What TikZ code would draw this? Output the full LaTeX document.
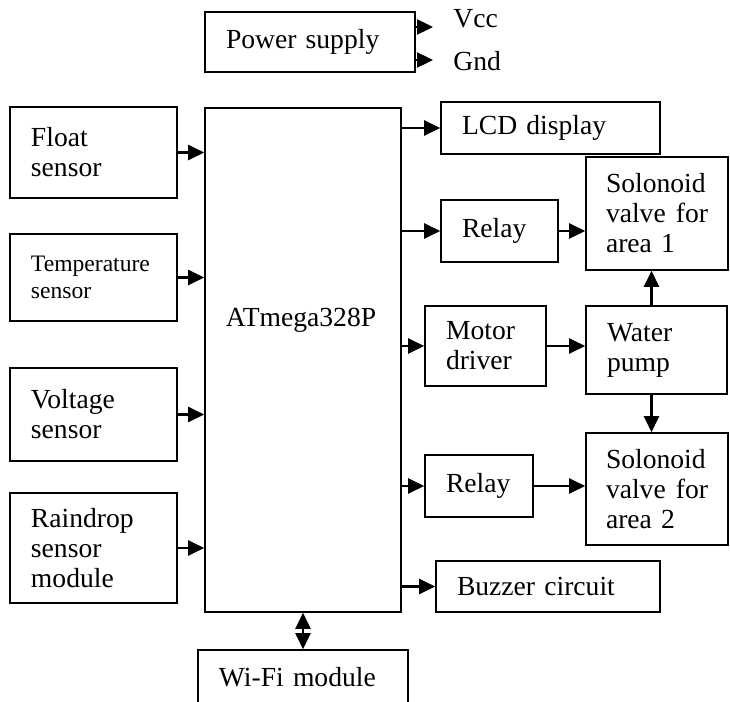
\documentclass[tikz,border=0pt]{standalone}
\usepackage{fontspec}
\setmainfont{Liberation Serif}
\usepackage{tikz}
\usetikzlibrary{arrows.meta}

\newcommand\bodyfont{\fontsize{13.8}{15}\selectfont}
\newcommand\smallbodyfont{\fontsize{11.8}{13.5}\selectfont}

\tikzset{
  blk/.style={draw, line width=0.8pt, align=left, inner xsep=10.5pt, inner ysep=0pt},
  arr/.style={line width=1.2pt, -{Triangle[length=8pt,width=7.5pt]}},
  darr/.style={line width=1.2pt, {Triangle[length=8pt,width=7.5pt]}-{Triangle[length=8pt,width=7.5pt]}},
}

\begin{document}
\begin{tikzpicture}[x=0.5pt, y=-0.5pt, font=\bodyfont]
        \useasboundingbox (0,0) rectangle (730,702);
        % power supply
        \node[blk, text width=84pt, minimum height=30pt] (power) at (310,42) {Power supply};
        \coordinate (vccend) at (433,27);
        \coordinate (gndend) at (433,60);
        \node[anchor=base west, inner sep=0pt] (vcc) at (453,27) {Vcc};
        \node[anchor=base west, inner sep=0pt] (gnd) at (453,70) {Gnd};
        \draw[arr] (power.east |- vccend) -- (vccend);
        \draw[arr] (power.east |- gndend) -- (gndend);
        % sensors
        \node[blk, text width=62.5pt, minimum height=45.5pt] (float) at (93.5,152.5) {Float\\sensor};
        \node[blk, text width=62.5pt, minimum height=43.5pt, font=\smallbodyfont] (temp) at (93.5,277.5) {Temperature\\sensor};
        \node[blk, text width=62.5pt, minimum height=46.5pt] (volt) at (93.5,414.5) {Voltage\\sensor};
        \node[blk, text width=62.5pt, minimum height=55pt] (rain) at (93.5,548) {Raindrop\\sensor\\module};
        % controller
        \node[draw, line width=0.8pt, minimum width=98pt, minimum height=252pt] (mcu) at (303,360) {};
        \node (mcutxt) at (301,320) {ATmega328P};
        \node[blk, text width=84pt, minimum height=27pt] (wifi) at (303,677) {Wi-Fi module};
        % outputs
        \node[blk, text width=88.5pt, minimum height=26pt] (lcd) at (550.5,128) {LCD display};
        \node[blk, text width=37.5pt, minimum height=31pt] (relay1) at (499.5,231) {Relay};
        \node[blk, text width=39.5pt, minimum height=40pt] (motor) at (485.5,346) {Motor\\driver};
        \node[blk, text width=33pt, minimum height=31pt] (relay2) at (479,486) {Relay};
        \node[blk, text width=91pt, minimum height=25.5pt] (buzzer) at (548,586.5) {Buzzer circuit};
        \node[blk, inner xsep=10pt, text width=51pt, minimum height=56.5pt] (sol1) at (657,213.5) {Solonoid\\valve\hfill for\\area 1};
        \node[blk, text width=49.5pt, minimum height=44pt] (pump) at (656.5,350) {Water\\pump};
        \node[blk, inner xsep=10pt, text width=51pt, minimum height=56pt] (sol2) at (657,489) {Solonoid\\valve\hfill for\\area 2};
        \foreach \s in {float,temp,volt,rain}
        {
        \draw[arr] (\s) -- (\s -| mcu.west);
        }
        \foreach \t in {lcd,relay1,motor,relay2,buzzer}
        {
        \draw[arr] (\t -| mcu.east) -- (\t);
        }
        \draw[arr] (relay1) -- (relay1 -| sol1.west);
        \draw[arr] (motor) -- (motor -| pump.west);
        \draw[arr] (relay2) -- (relay2 -| sol2.west);
        \draw[arr] ([xshift=-2.5pt]pump.north) -- ([xshift=-2.5pt]pump.north |- sol1.south);
        \draw[arr] ([xshift=-2.5pt]pump.south) -- ([xshift=-2.5pt]pump.south |- sol2.north);
        \draw[darr] (mcu.south) -- (wifi.north);
    \end{tikzpicture}
\end{document}
